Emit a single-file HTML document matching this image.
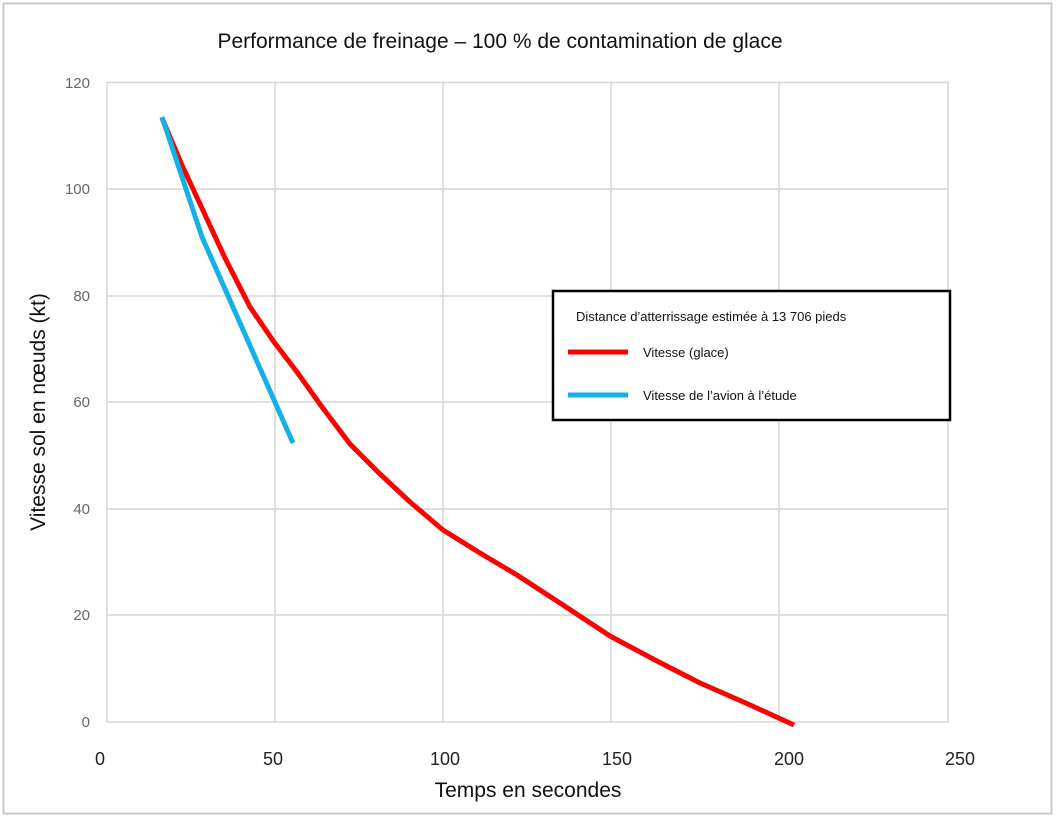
<!DOCTYPE html>
<html><head><meta charset="utf-8"><style>
body{margin:0;background:#fff;width:1056px;height:820px;overflow:hidden;font-family:"Liberation Sans",sans-serif}
</style></head><body>
<svg width="1056" height="820" xmlns="http://www.w3.org/2000/svg" font-family="Liberation Sans, sans-serif">
<rect x="3.5" y="3.5" width="1048" height="810" fill="#fff" stroke="#c8c8c8" stroke-width="2"/>
<text x="500" y="48" font-size="21" text-anchor="middle" fill="#111">Performance de freinage – 100 % de contamination de glace</text>
<g stroke="#d6d6d6" stroke-width="1.5" fill="none">
<rect x="107" y="82.5" width="841" height="639.5"/>
<line x1="107" y1="189" x2="948" y2="189"/>
<line x1="107" y1="296" x2="948" y2="296"/>
<line x1="107" y1="402" x2="948" y2="402"/>
<line x1="107" y1="509" x2="948" y2="509"/>
<line x1="107" y1="615" x2="948" y2="615"/>
<line x1="275" y1="82.5" x2="275" y2="722"/>
<line x1="443" y1="82.5" x2="443" y2="722"/>
<line x1="611" y1="82.5" x2="611" y2="722"/>
<line x1="779" y1="82.5" x2="779" y2="722"/>
</g>
<g font-size="15" fill="#666" text-anchor="end">
<text x="90" y="88">120</text><text x="90" y="194">100</text><text x="90" y="301">80</text>
<text x="90" y="407">60</text><text x="90" y="514">40</text><text x="90" y="620">20</text><text x="90" y="727">0</text>
</g>
<g font-size="18" fill="#222" text-anchor="middle">
<text x="100" y="765">0</text><text x="273" y="765">50</text><text x="445" y="765">100</text>
<text x="617" y="765">150</text><text x="789" y="765">200</text><text x="960" y="765">250</text>
</g>
<text x="528" y="797" font-size="21" text-anchor="middle" fill="#111">Temps en secondes</text>
<text transform="translate(45,412) rotate(-90)" font-size="21" text-anchor="middle" fill="#111">Vitesse sol en nœuds (kt)</text>
<polyline points="162,118 181,163 200,204 225,258 250,307 274,342 297,372 322,407 350,444 380,474 410,502 443,530 480,553 517,575 563,605 610,636 655,660 700,683 748,704 794,725" fill="none" stroke="#ff0000" stroke-width="5" stroke-linejoin="round"/>
<polyline points="162,117 202,237 293,443" fill="none" stroke="#14b0e6" stroke-width="5" stroke-linejoin="round"/>
<rect x="553" y="291" width="397" height="129" fill="#fff" stroke="#000" stroke-width="2.5"/>
<text x="576" y="321" font-size="13" fill="#111">Distance d’atterrissage estimée à 13 706 pieds</text>
<line x1="568" y1="352" x2="628" y2="352" stroke="#ff0000" stroke-width="5"/>
<text x="643" y="357" font-size="13" fill="#111">Vitesse (glace)</text>
<line x1="568" y1="395" x2="628" y2="395" stroke="#14b0e6" stroke-width="5"/>
<text x="643" y="400" font-size="13" fill="#111">Vitesse de l’avion à l’étude</text>
</svg>
</body></html>
